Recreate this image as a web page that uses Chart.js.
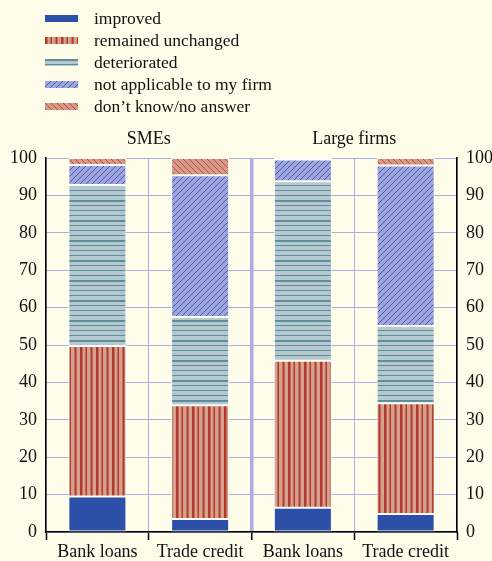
<!DOCTYPE html>
<html>
<head>
<meta charset="utf-8">
<script src="https://cdn.jsdelivr.net/npm/chart.js@4.4.0/dist/chart.umd.min.js"></script>
<style>
  html, body { margin: 0; padding: 0; background: #fefde9; }
  #wrap { position: relative; width: 492px; height: 561px; }
  #chart { position: absolute; left: 0; top: 0; }
  #legend { position: absolute; left: 45px; top: 8px; font-family: "Liberation Serif", serif; font-size: 17.5px; color: #111; }
  .item { height: 21.8px; display: flex; align-items: center; }
  .item canvas { margin-right: 16px; }
</style>
</head>
<body>
<div id="wrap">
  <canvas id="chart" width="492" height="561"></canvas>
  <div id="legend"></div>
</div>
<script>
// data (percent of firms)
const categories = ["Bank loans", "Trade credit", "Bank loans", "Trade credit"];
const panels = ["SMEs", "Large firms"];
const seriesNames = ["improved", "remained unchanged", "deteriorated", "not applicable to my firm", "don\u2019t know/no answer"];
const improved = [9.5, 3.5, 6.5, 4.8];
const unchanged = [40.2, 30.4, 39.3, 29.6];
const deteriorated = [43.1, 23.6, 48.0, 20.7];
const notApplicable = [5.3, 37.9, 5.8, 42.9];
const dontKnow = [1.9, 4.6, 0.4, 2.0];
const yMax = 100;
const yStep = 10;

const gridColor = "#a9aee2";

// little tiles for the hatched fills
function tile(w, h, draw) {
  const c = document.createElement("canvas");
  c.width = w; c.height = h;
  const g = c.getContext("2d");
  draw(g, w, h);
  return c;
}

const fills = [
  "#2c4fa8",
  tile(16, 4, (g, w, h) => {
    g.fillStyle = "#d6a08e"; g.fillRect(0, 0, w, h);
    g.fillStyle = "#b23a2a";
    g.fillRect(0, 0, 2.5, h);
    g.fillRect(5.5, 0, 1.5, h);
    g.fillRect(10.5, 0, 2, h);
  }),
  tile(4, 20, (g, w, h) => {
    g.fillStyle = "#b6c8cf"; g.fillRect(0, 0, w, h);
    g.fillStyle = "#5f8e9b";
    g.fillRect(0, 0, w, 2);
    g.fillRect(0, 5, w, 1);
    g.fillRect(0, 10, w, 1);
    g.fillRect(0, 15, w, 1);
  }),
  tile(6, 6, (g, w, h) => {
    g.fillStyle = "#9ea6dc"; g.fillRect(0, 0, w, h);
    g.strokeStyle = "#3445b0"; g.lineWidth = 0.8;
    g.beginPath(); g.moveTo(-1, h + 1); g.lineTo(w + 1, -1); g.stroke();
  }),
  tile(6, 6, (g, w, h) => {
    g.fillStyle = "#d89a88"; g.fillRect(0, 0, w, h);
    g.strokeStyle = "#b43a2c"; g.lineWidth = 0.8;
    g.beginPath(); g.moveTo(-1, -1); g.lineTo(w + 1, h + 1); g.stroke();
  })
];

const ctx = document.getElementById("chart").getContext("2d");
const patterns = fills.map(f => typeof f === "string" ? f : ctx.createPattern(f, "repeat"));

const values = [improved, unchanged, deteriorated, notApplicable, dontKnow];

// legend
const legendDiv = document.getElementById("legend");
seriesNames.forEach((name, i) => {
  const row = document.createElement("div");
  row.className = "item";
  const sw = document.createElement("canvas");
  sw.width = 33; sw.height = 7;
  const sg = sw.getContext("2d");
  sg.fillStyle = typeof fills[i] === "string" ? fills[i] : sg.createPattern(fills[i], "repeat");
  sg.fillRect(0, 0, 33, 7);
  row.appendChild(sw);
  row.appendChild(document.createTextNode(name));
  legendDiv.appendChild(row);
});

const panelTitles = {
  id: "panelTitles",
  afterDraw(chart) {
    const x = chart.scales.x;
    const g = chart.ctx;
    g.save();
    g.font = "18px 'Liberation Serif', serif";
    g.fillStyle = "#111";
    g.textAlign = "center";
    g.textBaseline = "middle";
    panels.forEach((p, i) => {
      const cx = (x.getPixelForValue(i * 2) + x.getPixelForValue(i * 2 + 1)) / 2;
      g.fillText(p, cx, chart.chartArea.top - 19);
    });
    g.restore();
  }
};

const tickFont = { family: "'Liberation Serif', serif", size: 18 };

new Chart(ctx, {
  type: "bar",
  data: {
    labels: categories,
    datasets: values.map((v, i) => ({
      label: seriesNames[i],
      data: v,
      backgroundColor: patterns[i],
      borderColor: "rgba(255,255,255,0.9)",
      borderWidth: 1,
      borderSkipped: false,
      stack: "s",
      categoryPercentage: 1,
      barPercentage: 0.565
    }))
  },
  options: {
    responsive: false,
    animation: false,
    layout: { padding: { top: 158, left: 0, right: 0, bottom: 0 } },
    plugins: { legend: { display: false }, tooltip: { enabled: false } },
    scales: {
      x: {
        stacked: true,
        grid: {
          offset: true,
          color: gridColor,
          lineWidth: c => c.index === 2 ? 3.5 : 1,
          tickColor: "#000",
          tickLength: 8,
          tickWidth: 1.5
        },
        border: { display: true, color: "#000", width: 1.5 },
        ticks: { color: "#111", font: tickFont, padding: 1, maxRotation: 0 },
        afterFit: s => { s.height = 29; }
      },
      y: {
        stacked: true,
        min: 0, max: yMax,
        position: "left",
        grid: { color: gridColor, drawTicks: false },
        border: { display: true, color: "#000", width: 1.5 },
        ticks: { stepSize: yStep, color: "#111", font: tickFont, padding: 9 },
        afterFit: s => { s.width = 46; }
      },
      y2: {
        min: 0, max: yMax,
        position: "right",
        grid: { drawOnChartArea: false, drawTicks: false },
        border: { display: true, color: "#000", width: 1.5 },
        ticks: { stepSize: yStep, color: "#111", font: tickFont, padding: 9 },
        afterFit: s => { s.width = 35; }
      }
    }
  },
  plugins: [panelTitles]
});
</script>
</body>
</html>
